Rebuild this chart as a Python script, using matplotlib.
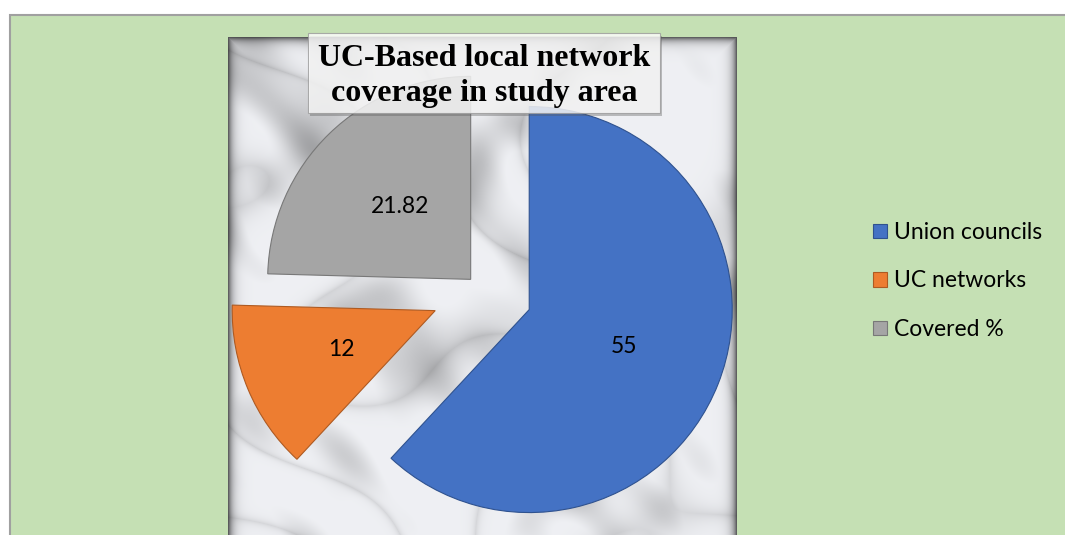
import numpy as np
import matplotlib.pyplot as plt
from matplotlib.patches import Rectangle

# chart data
labels = ['Union councils', 'UC networks', 'Covered %']
values = [55, 12, 21.82]
colors = ['#4472C4', '#ED7D31', '#A5A5A5']
edges = ['#2F528F', '#AE5A21', '#787878']
explode = [0.25, 0.25, 0.08]
title = 'UC-Based local network\ncoverage in study area'

W, H = 1065, 535
fig = plt.figure(figsize=(W / 100, H / 100), dpi=100)
fig.patch.set_facecolor('white')

# green chart area with grey border (left and top visible)
fig.patches.append(Rectangle((10 / W, -0.1), 1.2, (H - 15) / H + 0.1, transform=fig.transFigure,
                             facecolor='#C5E0B4', edgecolor='#A0A0A0', linewidth=1.5, zorder=-5))

# marble-like plot area (soft cloudy texture built from fixed sine waves)
mx0, mx1, my0 = 228, 737, 37
axm = fig.add_axes([mx0 / W, 0, (mx1 - mx0) / W, (H - my0) / H])
w, h = mx1 - mx0, H - my0
yy, xx = np.mgrid[0:h, 0:w].astype(float)
warp = 2.0 * np.sin(xx * 0.012 + 0.7) * np.cos(yy * 0.015 + 1.3)
n = np.zeros_like(xx)
waves = [(0.021, 0.013, 0.0, 1.0), (-0.017, 0.026, 1.9, 0.8), (0.034, -0.029, 3.1, 0.6),
         (0.052, 0.047, 0.4, 0.45), (-0.071, 0.063, 2.2, 0.35), (0.093, -0.081, 5.0, 0.25)]
for fx, fy, ph, a in waves:
    n += a * np.sin(fx * xx + fy * yy + ph + warp)
n = n / 3.45
cloud = np.clip(n, 0, None) ** 1.3
streak = np.exp(-7 * np.abs(np.sin(0.018 * xx - 0.011 * yy + warp * 1.3)))
tex = 0.955 - 0.34 * cloud - 0.10 * streak
d = np.minimum.reduce([xx, w - 1 - xx, yy])
tex = tex * (1 - 0.6 * np.exp(-d / 4.5))
tex = np.clip(tex, 0, 1)
img = np.dstack([tex * 0.98, tex * 0.985, tex])
axm.imshow(img, aspect='auto', interpolation='bilinear')
axm.axis('off')

# pie axes: 1 data unit = 203 px, centre at (482, 291)
cx, cy, r = 482, 291, 203
half = 260
ax = fig.add_axes([(cx - half) / W, (H - cy - half) / H, 2 * half / W, 2 * half / H])
total = sum(values)
wedges, texts, autotexts = ax.pie(values, colors=colors, explode=explode, startangle=90,
                                  counterclock=False, radius=1, pctdistance=0.5,
                                  autopct=lambda p: '{:g}'.format(round(p * total / 100, 2)),
                                  wedgeprops=dict(linewidth=0.8),
                                  textprops=dict(fontsize=16.5, family='Lato', color='black'))
for wdg, ec in zip(wedges, edges):
    wdg.set_edgecolor(ec)
ax.set_xlim(-half / r, half / r)
ax.set_ylim(-half / r, half / r)
ax.axis('off')

# title box with shadow
bx0, by0, bx1, by1 = 308, 33, 660, 113
fig.patches.append(Rectangle(((bx0 + 2) / W, (H - by1 - 3) / H), (bx1 - bx0) / W, (by1 - by0) / H,
                             transform=fig.transFigure, facecolor='#555555', alpha=0.35,
                             edgecolor='none', zorder=5))
fig.patches.append(Rectangle((bx0 / W, (H - by1) / H), (bx1 - bx0) / W, (by1 - by0) / H,
                             transform=fig.transFigure, facecolor='white', alpha=0.8,
                             edgecolor='#9A9A9A', linewidth=0.8, zorder=6))
fig.text((bx0 + bx1) / 2 / W, (H - (by0 + by1) / 2 - 3) / H, title, ha='center', va='center',
         family='Liberation Serif', fontweight='bold', fontsize=23, linespacing=1.3, zorder=7)

# legend
handles = [Rectangle((0, 0), 1, 1, facecolor=c, edgecolor=e, linewidth=0.8) for c, e in zip(colors, edges)]
fig.legend(handles, labels, loc='center left', bbox_to_anchor=(852 / W, 1 - 281 / H),
           frameon=False, prop=dict(family='Lato', size=16.5), handlelength=0.62, handleheight=0.62,
           handletextpad=0.3, labelspacing=1.2)

fig.savefig('out.png', dpi=100)
